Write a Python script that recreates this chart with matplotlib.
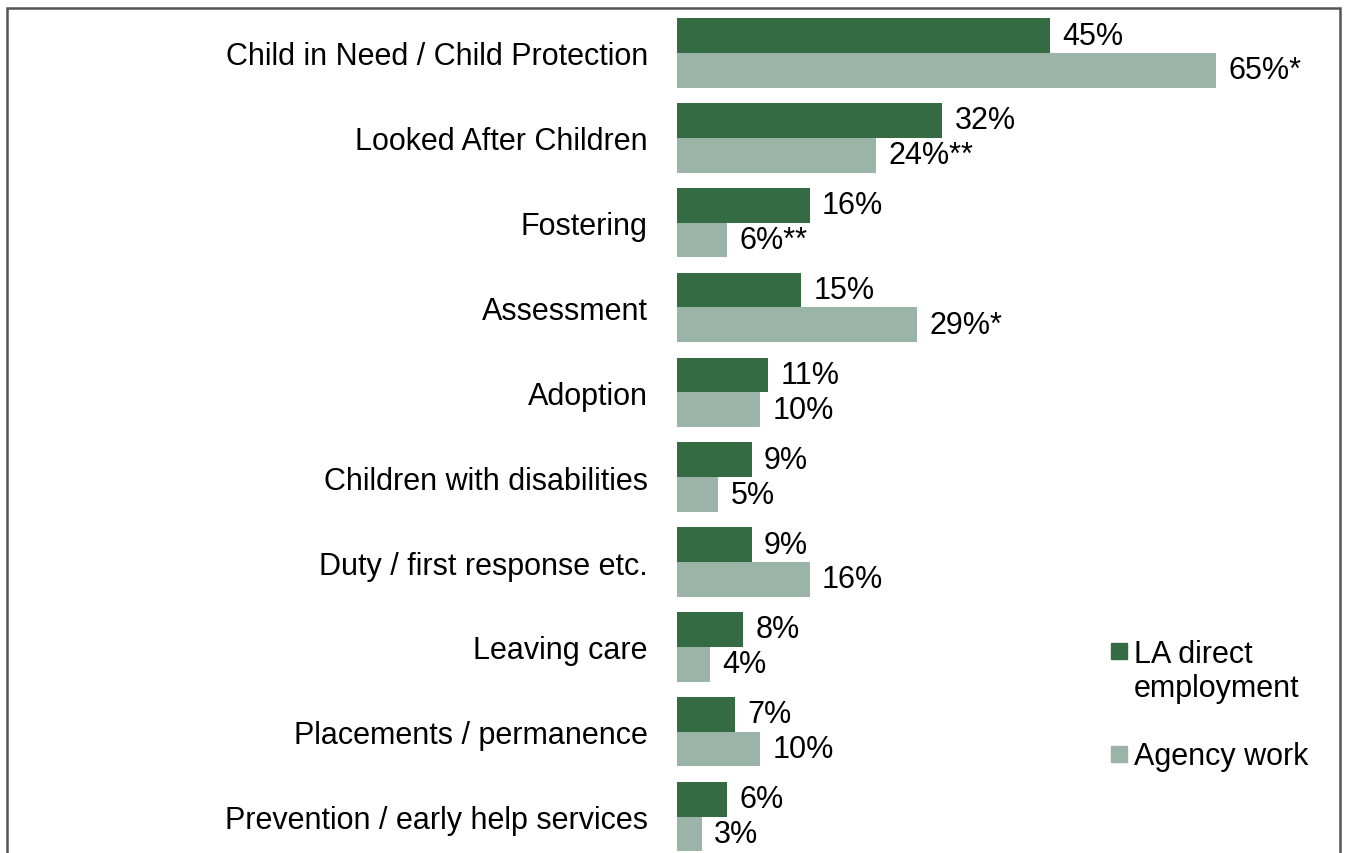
import matplotlib.pyplot as plt
from matplotlib.patches import Rectangle

plt.rcParams['font.family'] = ['Liberation Sans', 'DejaVu Sans']

categories = ['Child in Need / Child Protection', 'Looked After Children', 'Fostering',
              'Assessment', 'Adoption', 'Children with disabilities',
              'Duty / first response etc.', 'Leaving care', 'Placements / permanence',
              'Prevention / early help services']
la_direct = [45, 32, 16, 15, 11, 9, 9, 8, 7, 6]
agency = [65, 24, 6, 29, 10, 5, 16, 4, 10, 3]
agency_marks = ['*', '**', '**', '*', '', '', '', '', '', '']
series_names = ['LA direct\nemployment', 'Agency work']

dark = '#346b42'
light = '#9ab5a8'
fs = 22

W, H = 1347, 854
fig = plt.figure(figsize=(W / 100, H / 100), dpi=100)
ax = fig.add_axes([677 / W, 0, (1340 - 677) / W, (H - 9) / H])

bh = 0.41
y = list(range(len(categories)))
ax.barh([i - bh / 2 for i in y], la_direct, height=bh, color=dark)
ax.barh([i + bh / 2 for i in y], agency, height=bh, color=light)

for i in y:
    ax.text(la_direct[i] + 1.5, i - bh / 2, f'{la_direct[i]}%', va='center', ha='left', fontsize=fs)
    ax.text(agency[i] + 1.5, i + bh / 2, f'{agency[i]}%{agency_marks[i]}', va='center', ha='left', fontsize=fs)

ax.set_xlim(0, 80)
ax.set_ylim(9.43, -0.53)
ax.set_yticks(y)
ax.set_yticklabels(categories, fontsize=fs)
ax.tick_params(axis='y', length=0, pad=21)
ax.set_xticks([])
for s in ax.spines.values():
    s.set_visible(False)

# legend drawn by hand so the swatch sits on the first text line
# (baseline given is that of the last line of each entry)
for (name, col, sq_top, base) in [(series_names[0], dark, 644, 697), (series_names[1], light, 747, 765)]:
    fig.patches.append(Rectangle((1111 / W, 1 - (sq_top + 16) / H), 16 / W, 16 / H,
                                 transform=fig.transFigure, color=col))
    fig.text(1134 / W, 1 - base / H, name, ha='left', va='baseline', fontsize=fs, linespacing=1.18)

# outer frame, open at the bottom
fig.patches.append(Rectangle((7 / W, -0.05), (1340 - 7) / W, 1.05 - 9 / H,
                             transform=fig.transFigure, fill=False,
                             edgecolor='#555555', linewidth=1.8))

fig.savefig('out.png', dpi=100)
